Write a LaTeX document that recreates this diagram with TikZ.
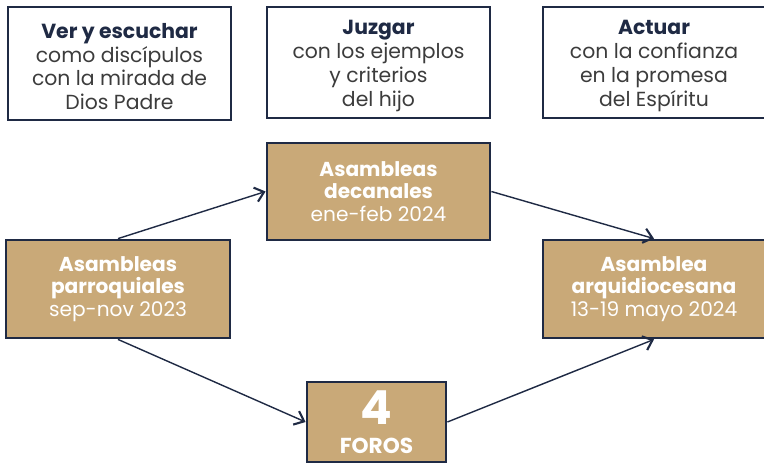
\documentclass[tikz,border=0pt]{standalone}
\usepackage{fontspec}
\setmainfont{Poppins}
\usetikzlibrary{arrows.meta}

\definecolor{navy}{HTML}{1F2A44}
\definecolor{tan}{HTML}{C9A978}
\definecolor{txtgray}{HTML}{3C3C3C}

\newcommand{\stagetitle}[1]{\rule{0pt}{18pt}\textbf{\color{navy}#1}}

\tikzset{
	stagebox/.style={draw=navy, line width=2.4pt, fill=white, align=center,
		text=txtgray, font=\fontsize{17.4}{20.4}\selectfont, inner sep=0pt},
	eventbox/.style={draw=navy, line width=2.4pt, fill=tan, align=center,
		text=white, font=\fontsize{17.2}{19.4}\selectfont, inner sep=0pt},
	flow/.style={navy, line width=1.2pt, -{Straight Barb[length=2.6mm, width=4.4mm, line width=1.8pt]}},
}

\begin{document}
\begin{tikzpicture}[x=0.03cm, y=-0.03cm]
	\useasboundingbox (0,0) rectangle (764,464);

	% las tres etapas
	\node[stagebox, minimum width=6.69cm, minimum height=3.39cm] (ver) at (119.5,63.5)
		{\stagetitle{Ver y escuchar}\\como discípulos\\con la mirada de\\Dios Padre};
	\node[stagebox, minimum width=6.69cm, minimum height=3.33cm] (juz) at (378.5,62.5)
		{\stagetitle{Juzgar}\\con los ejemplos\\y criterios\\del hijo};
	\node[stagebox, minimum width=6.66cm, minimum height=3.33cm] (act) at (654,62.5)
		{\stagetitle{Actuar}\\con la confianza\\en la promesa\\del Espíritu};

	% las asambleas
	\node[eventbox, minimum width=6.72cm, minimum height=2.94cm] (parr) at (118,289)
		{\textbf{Asambleas}\\\textbf{parroquiales}\\sep-nov 2023};
	\node[eventbox, minimum width=6.69cm, minimum height=2.91cm] (dec) at (378.5,191.5)
		{\textbf{Asambleas}\\\textbf{decanales}\\ene-feb 2024};
	\node[eventbox, minimum width=6.66cm, minimum height=2.94cm] (arq) at (654,289)
		{\textbf{Asamblea}\\\textbf{arquidiocesana}\\13-19 mayo 2024};
	\node[eventbox, minimum width=4.17cm, minimum height=2.4cm] (foros) at (376.5,422)
		{{\fontsize{40}{36}\selectfont\textbf{4}}\\[5pt]{\fontsize{18.5}{20}\selectfont\textbf{FOROS}}};

	\draw[flow] (parr.north) -- (dec.west);
	\draw[flow] (dec.east) -- (arq.north);
	\draw[flow] (parr.south) -- (foros.west);
	\draw[flow] (foros.east) -- (arq.south);
\end{tikzpicture}
\end{document}
